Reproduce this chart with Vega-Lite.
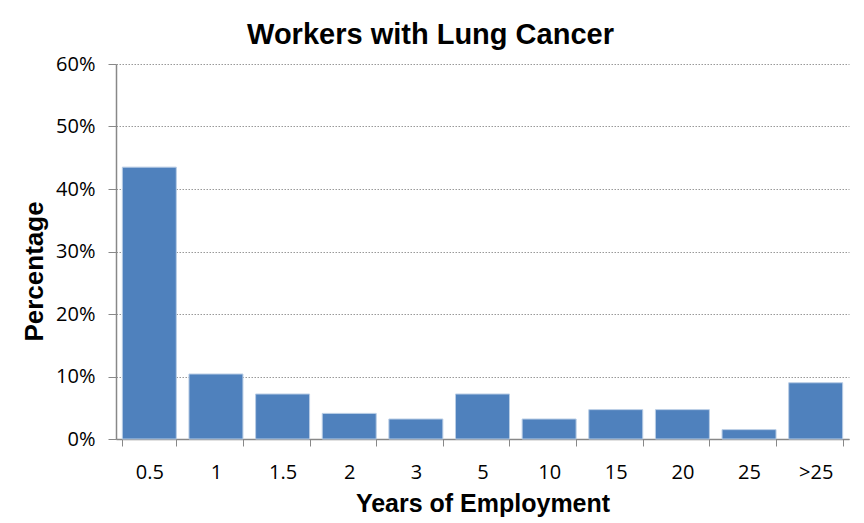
{
  "$schema": "https://vega.github.io/schema/vega-lite/v6.json",
  "autosize": {"type": "none"},
  "width": 733,
  "height": 375,
  "padding": {"left": 116, "top": 64, "right": 15, "bottom": 84},
  "background": "white",
  "title": {"text": "Workers with Lung Cancer", "font": "Liberation Sans", "fontSize": 29, "fontWeight": "bold", "color": "black", "anchor": "middle", "dx": -52, "offset": 4},
  "data": {"values": [
    {"years": "0.5", "pct": 0.435},
    {"years": "1", "pct": 0.104},
    {"years": "1.5", "pct": 0.072},
    {"years": "2", "pct": 0.041},
    {"years": "3", "pct": 0.032},
    {"years": "5", "pct": 0.072},
    {"years": "10", "pct": 0.032},
    {"years": "15", "pct": 0.047},
    {"years": "20", "pct": 0.047},
    {"years": "25", "pct": 0.015},
    {"years": ">25", "pct": 0.090}
  ]},
  "mark": {"type": "bar", "color": "#4F81BD", "stroke": "#B9CDE5", "strokeWidth": 1},
  "encoding": {
    "x": {"field": "years", "type": "nominal", "sort": null,
      "scale": {"paddingInner": 0.19, "paddingOuter": 0.095},
      "axis": {"title": "Years of Employment", "labelAngle": 0, "tickBand": "extent",
        "domainColor": "#888888", "tickColor": "#888888", "tickSize": 7, "domainWidth": 1.5,
        "labelFont": "Open Sans", "labelFontSize": 20, "labelColor": "black", "labelPadding": 16,
        "titleFont": "Liberation Sans", "titleFontSize": 25, "titleFontWeight": "bold", "titleColor": "black", "titlePadding": 9, "grid": false}},
    "y": {"field": "pct", "type": "quantitative",
      "scale": {"domain": [0, 0.6]},
      "axis": {"title": "Percentage", "format": ".0%", "values": [0, 0.1, 0.2, 0.3, 0.4, 0.5, 0.6],
        "domainColor": "#888888", "tickColor": "#888888", "tickSize": 8, "domainWidth": 1.5,
        "gridColor": "#999999", "gridDash": [1.5, 1.5], "gridWidth": 1,
        "labelFont": "Open Sans", "labelFontSize": 20, "labelColor": "black", "labelPadding": 13,
        "titleFont": "Liberation Sans", "titleFontSize": 26, "titleFontWeight": "bold", "titleColor": "black", "titlePadding": 8, "titleY": 207}}
  },
  "config": {"view": {"stroke": null}}
}
